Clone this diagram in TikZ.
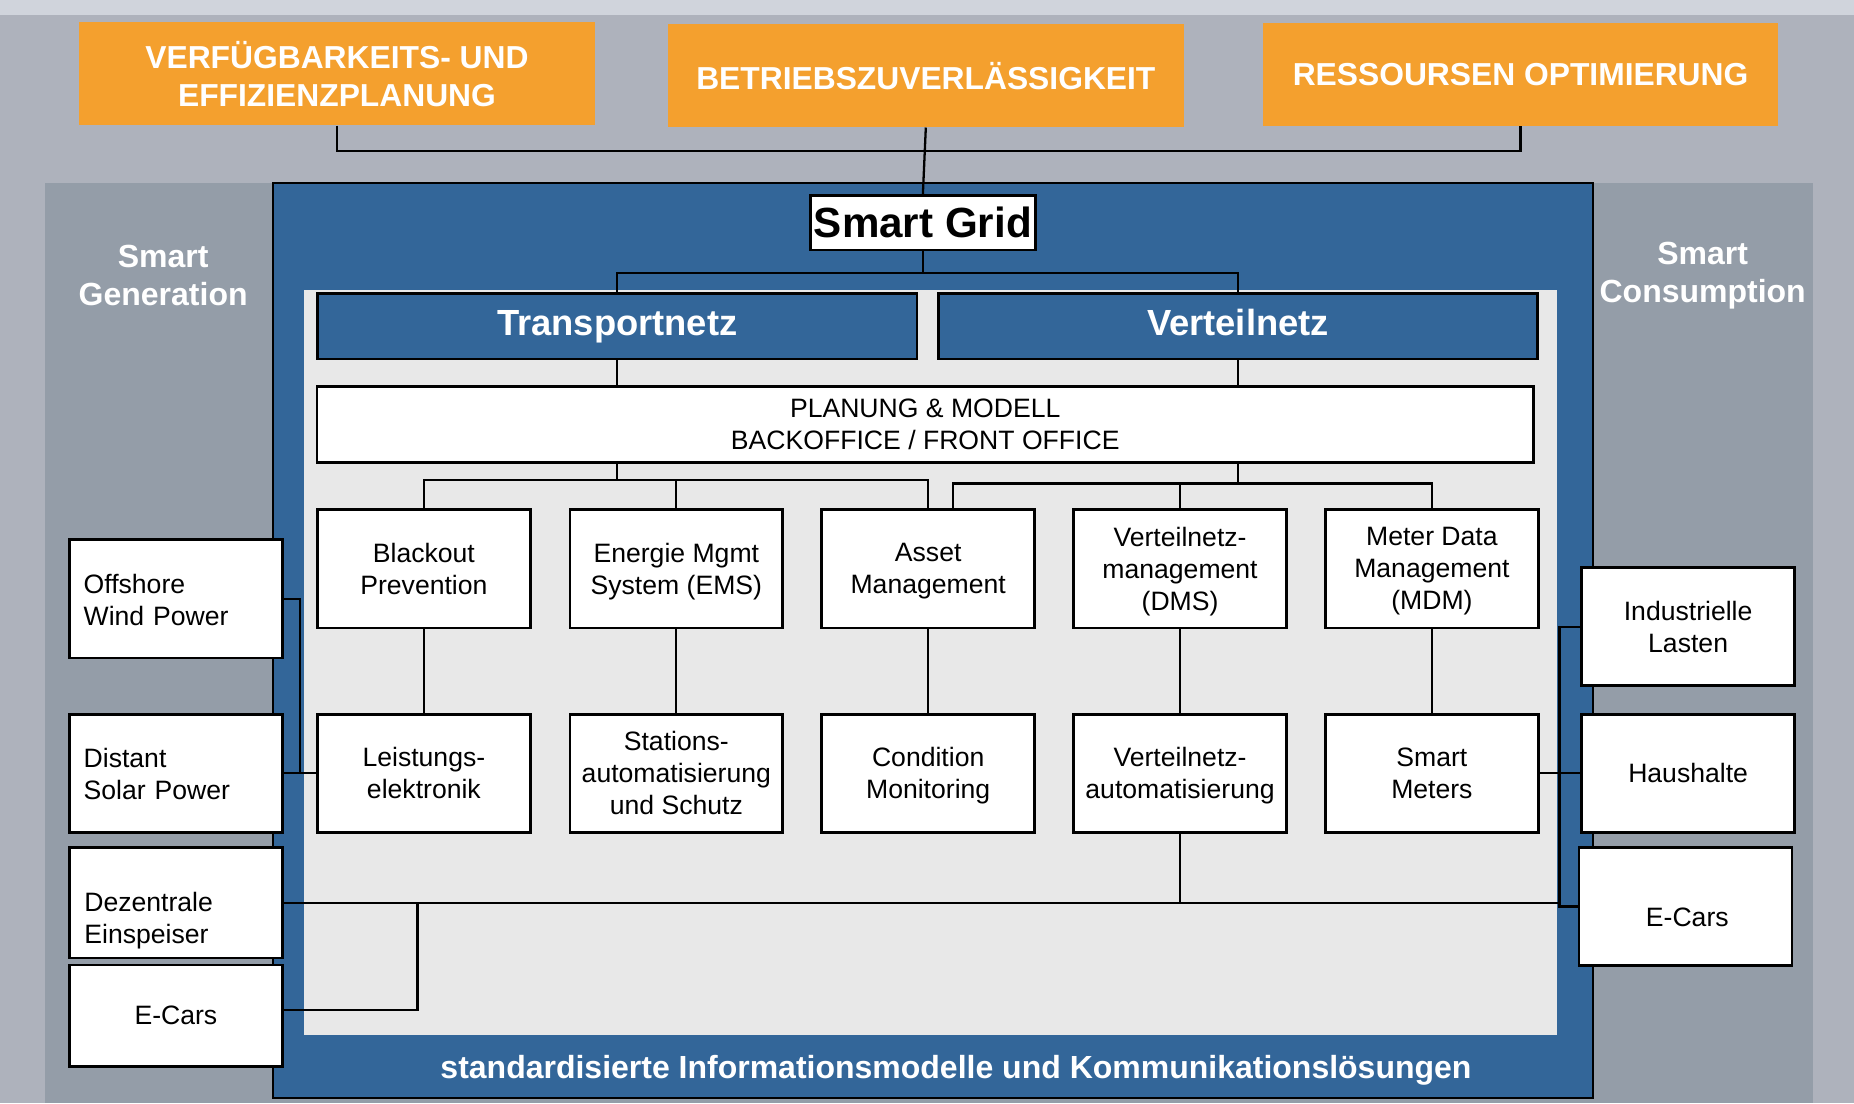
\documentclass[tikz,border=0pt]{standalone}
\usepackage{fontspec}
\setmainfont{Liberation Sans}
\usepackage{xcolor}
\usepackage{tikz}
\usetikzlibrary{calc}
\definecolor{bgray}{HTML}{AEB2BC}
\definecolor{topstrip}{HTML}{D0D4DC}
\definecolor{sidegray}{HTML}{949DA8}
\definecolor{gridblue}{HTML}{336699}
\definecolor{innergray}{HTML}{E8E8E8}
\definecolor{goalorange}{HTML}{F4A02E}
\tikzset{
  link/.style={draw=black, line width=1.1pt},
  goalbox/.style={fill=goalorange, text=white, font=\bfseries\fontsize{15.3}{18.4}\selectfont,
    align=center, minimum width=8.72cm, minimum height=1.74cm, inner sep=0pt},
  gridbox/.style={draw=black, fill=white, line width=1.3pt, minimum width=3.8cm,
    minimum height=0.92cm, inner sep=0pt, font=\bfseries\fontsize{20.3}{24}\selectfont},
  netbox/.style={draw=black, fill=gridblue, line width=1.3pt, text=white,
    font=\bfseries\fontsize{17.5}{21}\selectfont, minimum width=10.14cm, minimum height=1.1cm,
    inner sep=0pt, text height=0.87em, text depth=0pt},
  lab/.style={font=\fontsize{12.8}{15.4}\selectfont, align=left, inner sep=0pt, text depth=-1pt},
  fnbox/.style={lab, draw=black, fill=white, line width=1.3pt, align=center,
    minimum width=3.6cm, minimum height=2cm},
  sidebox/.style={fnbox, text width=3.12cm, align=left, text depth=14.4pt},
  headlab/.style={text=white, font=\bfseries\fontsize{15.4}{18.2}\selectfont, align=center, inner sep=0pt}
}
\begin{document}
\begin{tikzpicture}[x=0.02cm, y=-0.02cm]
  \useasboundingbox (0,0) rectangle (1568,933);
  % background and panels
  \fill[bgray] (0,0) rectangle (1568,933);
  \fill[topstrip] (0,0) rectangle (1568,13);
  \fill[sidegray] (38,155) rectangle (1533,933);
  \filldraw[fill=gridblue, draw=black, line width=0.9pt] (231,155) rectangle (1347,928.5);
  \fill[innergray] (257,245) rectangle (1317,875);
  \node[headlab] (gen) at (138,233) {Smart\\Generation};
  \node[headlab] (con) at (1440,233) {Smart\\Consumption};
  \node[headlab] (std) at (808.5,905) {standardisierte Informationsmodelle und Kommunikationslösungen};

  % goals
  \node[goalbox] (g1) at (285,62.5) {VERFÜGBARKEITS- UND\\EFFIZIENZPLANUNG};
  \node[goalbox] (g2) at (783,64) {BETRIEBSZUVERLÄSSIGKEIT};
  \node[goalbox] (g3) at (1286,63) {RESSOURSEN OPTIMIERUNG};

  \node[gridbox] (sg) at (780.5,188.5) {Smart Grid};
  \node[netbox] (tn) at (522,276) {Transportnetz};
  \node[netbox] (vn) at (1047,276) {Verteilnetz};
  \node[fnbox, minimum width=20.58cm, minimum height=1.28cm] (pl) at (782.5,359) {PLANUNG \& MODELL\\BACKOFFICE / FRONT OFFICE};

  % functions
  \node[fnbox] (bo) at (358.5,481) {Blackout\\Prevention};
  \node[fnbox] (ems) at (572,481) {Energie Mgmt\\System (EMS)};
  \node[fnbox] (am) at (785,481) {Asset\\Management};
  \node[fnbox] (dms) at (998,481) {Verteilnetz-\\management\\(DMS)};
  \node[fnbox] (mdm) at (1211,481) {Meter Data\\Management\\(MDM)};
  \node[fnbox] (le) at (358.5,654) {Leistungs-\\elektronik};
  \node[fnbox] (st) at (572,654) {Stations-\\automatisierung\\und Schutz};
  \node[fnbox] (cm) at (785,654) {Condition\\Monitoring};
  \node[fnbox] (va) at (998,654) {Verteilnetz-\\automatisierung};
  \node[fnbox] (sm) at (1211,654) {Smart\\Meters};

  % generation / consumption
  \node[sidebox] (off) at (148.75,506.5) {Offshore\\Wind Power};
  \node[sidebox] (dsp) at (148.75,654) {Distant\\Solar Power};
  \node[fnbox, minimum height=1.87cm] (dez) at (148.75,763.5) {};
  \node[lab, anchor=west] (dezt) at (71,776.5) {Dezentrale\\Einspeiser};
  \node[fnbox, minimum height=1.72cm] (ecl) at (148.75,859) {E-Cars};
  \node[fnbox] (ind) at (1427.7,530) {Industrielle\\Lasten};
  \node[fnbox] (hh) at (1427.7,654) {Haushalte};
  \node[fnbox] (ecr) at (1425.5,766.7) {};
  \node[lab] (ecrt) at (1427,776) {E-Cars};

  % connectors
  \coordinate (tj) at (783,128);
  \coordinate (sgj) at (780.5,231);
  \coordinate (lj) at (522,406);
  \coordinate (rj) at (1047,409);
  \coordinate (lg) at (253.5,654);
  \coordinate (lbus) at (353,763.5);
  \coordinate (rbus) at (1320,763.5);
  \draw[link] (g1.south) |- (tj) -| (g3.south);
  \draw[link] (g2.south) -- (sg.north);
  \draw[link] (sg.south) -- (sgj);
  \draw[link] (tn.north) |- (sgj) -| (vn.north);
  \draw[link] (tn.south) -- (tn.south |- pl.north);
  \draw[link] (vn.south) -- (vn.south |- pl.north);
  \draw[link] (pl.south -| tn.south) -- (lj);
  \draw[link] (bo.north) |- (lj) -| (am.north);
  \draw[link] (ems.north) -- (ems.north |- lj);
  \draw[link] (pl.south -| vn.south) -- (rj);
  \draw[link] ($(am.north)+(21,0)$) |- (rj) -| (mdm.north);
  \draw[link] (dms.north) -- (dms.north |- rj);
  \foreach \a/\b in {bo/le, ems/st, am/cm, dms/va, mdm/sm}
    \draw[link] (\a.south) -- (\b.north);
  \draw[link] (off.east) -| (lg);
  \draw[link] (dsp.east) -- (le.west);
  \draw[link] (dez.east) -| (va.south);
  \draw[link] ($(ecl.east)+(0,-5)$) -| (lbus);
  \draw[link] (va.south) |- (rbus);
  \draw[link] (ind.west) -| ($(ecr.west)+(-15.5,0)$) -- (ecr.west);
  \draw[link] (sm.east) -- (hh.west);
\end{tikzpicture}
\end{document}
